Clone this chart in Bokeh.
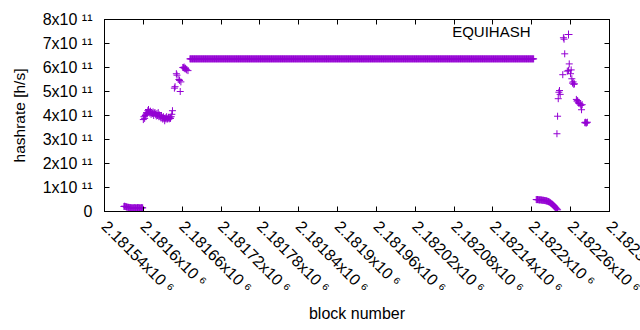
from bokeh.plotting import figure
from bokeh.models import Range1d, FixedTicker, LinearAxis, Legend, LegendItem, Label
from bokeh.embed import file_html
from bokeh.resources import INLINE

# ---------------- data ----------------
series_name = "EQUIHASH"

# early low-hashrate stretch
low_start_blocks = list(range(2181570, 2181600))
low_start_vals = [2.1e10, 2.2e10, 2.1e10, 2.0e10, 1.9e10, 1.8e10, 1.8e10, 1.7e10,
                  1.7e10, 1.6e10, 1.6e10, 1.6e10, 1.5e10, 1.5e10, 1.5e10, 1.5e10, 1.6e10, 1.6e10,
                  1.5e10, 1.5e10, 1.5e10, 1.6e10, 1.6e10, 1.6e10, 1.5e10, 1.5e10, 1.5e10, 1.6e10,
                  1.6e10, 1.5e10]

# ~4e11 plateau
mid_blocks = list(range(2181600, 2181646))
mid_vals = [3.83e11, 3.95e11, 3.88e11, 4.00e11, 4.05e11, 4.12e11, 4.08e11, 4.20e11, 4.25e11, 4.15e11,
            4.10e11, 4.18e11, 4.05e11, 4.12e11, 4.08e11, 4.15e11, 4.00e11, 4.10e11, 4.12e11, 4.05e11,
            3.98e11, 4.08e11, 4.00e11, 4.12e11, 3.95e11, 4.02e11, 3.98e11, 3.90e11, 4.00e11, 3.92e11,
            3.85e11, 3.95e11, 3.88e11, 3.78e11, 3.90e11, 3.86e11, 3.95e11, 3.85e11, 3.88e11, 3.92e11,
            3.86e11, 3.90e11, 3.88e11, 3.95e11, 4.05e11, 4.20e11]

# rise towards the long plateau
rise_blocks = [2181648, 2181649, 2181651, 2181652, 2181655, 2181656, 2181657, 2181658,
               2181661, 2181662, 2181663, 2181664, 2181665, 2181666, 2181667, 2181669]
rise_vals = [5.14e11, 5.20e11, 5.74e11, 5.68e11, 5.50e11, 5.46e11, 5.00e11, 5.40e11,
             6.00e11, 5.99e11, 6.02e11, 5.95e11, 5.97e11, 5.93e11, 5.90e11, 5.87e11]

# long flat plateau
flat_first_block = 2181672
flat_last_block = 2182203
flat_value = 6.36e11

# late low-hashrate stretch
low_end_blocks = list(range(2182207, 2182241))
low_end_vals = [5.0e10, 4.9e10, 5.0e10, 4.9e10, 4.9e10, 4.8e10, 4.9e10, 4.8e10, 4.8e10, 4.7e10,
                4.7e10, 4.7e10, 4.6e10, 4.6e10, 4.5e10, 4.5e10, 4.4e10, 4.3e10, 4.2e10, 4.1e10,
                4.0e10, 3.8e10, 3.6e10, 3.4e10, 3.2e10, 3.0e10, 2.8e10, 2.5e10, 2.2e10, 1.9e10,
                1.6e10, 1.3e10, 1.0e10, 0.7e10]

# final scattered stretch
tail_blocks = [2182239, 2182240, 2182241, 2182242, 2182243, 2182244, 2182248, 2182249, 2182250,
               2182251, 2182255, 2182257, 2182258, 2182260, 2182261, 2182262, 2182263, 2182264,
               2182265, 2182266, 2182269, 2182270, 2182271, 2182272, 2182273, 2182275, 2182276,
               2182277, 2182278, 2182282, 2182283, 2182284, 2182285, 2182286]
tail_vals = [3.24e11, 3.97e11, 4.70e11, 4.97e11, 5.04e11, 4.88e11, 5.70e11, 7.24e11, 7.18e11,
             6.57e11, 5.85e11, 5.88e11, 6.15e11, 5.74e11, 5.90e11, 5.53e11, 5.35e11, 5.40e11,
             5.30e11, 5.32e11, 4.67e11, 4.60e11, 4.62e11, 4.55e11, 4.50e11, 4.48e11, 4.42e11,
             4.24e11, 4.45e11, 3.70e11, 3.72e11, 3.68e11, 3.70e11, 3.72e11]

x_ticks = [2181540, 2181600, 2181660, 2181720, 2181780, 2181840, 2181900,
           2181960, 2182020, 2182080, 2182140, 2182200, 2182260, 2182320]
x_tick_labels = ["2.18154x10 \u2076", "2.1816x10 \u2076", "2.18166x10 \u2076", "2.18172x10 \u2076",
                 "2.18178x10 \u2076", "2.18184x10 \u2076", "2.1819x10 \u2076", "2.18196x10 \u2076",
                 "2.18202x10 \u2076", "2.18208x10 \u2076", "2.18214x10 \u2076", "2.1822x10 \u2076",
                 "2.18226x10 \u2076", "2.18232x10 \u2076"]
y_ticks = [0, 1e11, 2e11, 3e11, 4e11, 5e11, 6e11, 7e11, 8e11]
y_tick_labels = ["0", "1x10 \u00b9\u00b9", "2x10 \u00b9\u00b9", "3x10 \u00b9\u00b9", "4x10 \u00b9\u00b9",
                 "5x10 \u00b9\u00b9", "6x10 \u00b9\u00b9", "7x10 \u00b9\u00b9", "8x10 \u00b9\u00b9"]

# assemble
flat_blocks = list(range(flat_first_block, flat_last_block + 1))
flat_vals = [flat_value] * len(flat_blocks)
xs = low_start_blocks + mid_blocks + rise_blocks + flat_blocks + low_end_blocks + tail_blocks
ys = low_start_vals + mid_vals + rise_vals + flat_vals + low_end_vals + tail_vals

# ---------------- figure ----------------
FONT = "Liberation Sans"
PURPLE = "#9400d3"
W, H = 640, 330
TICK_STANDOFF = 12

# Bokeh nudges the outermost tick label back inside the canvas; a blank guard
# tick just past the last real tick takes that role, so the real last label runs
# off the right edge as in the reference.
guard_tick = x_ticks[-1] + 0.1
x_end = x_ticks[-1] + 0.2

p = figure(width=W, height=H, output_backend="svg", toolbar_location=None,
           x_range=Range1d(x_ticks[0], x_end), y_range=Range1d(y_ticks[0], y_ticks[-1]),
           min_border_left=104, min_border_right=31, min_border_top=19, min_border_bottom=119)
p.xgrid.visible = False
p.ygrid.visible = False
p.outline_line_color = "black"
p.outline_line_width = 1
p.background_fill_color = "white"
p.border_fill_color = "white"

r = p.scatter(xs, ys, marker="cross", size=7, line_color=PURPLE, line_width=1)

def style_axis(ax, size="16px"):
    ax.axis_line_color = "black"
    ax.major_tick_in = 5
    ax.major_tick_out = 0
    ax.major_tick_line_color = "black"
    ax.minor_tick_line_color = None
    ax.major_label_text_font = FONT
    ax.major_label_text_font_size = size
    ax.major_label_text_color = "black"
    ax.axis_label_text_font = FONT
    ax.axis_label_text_font_size = "16px"
    ax.axis_label_text_font_style = "normal"
    ax.axis_label_text_color = "black"

xa = p.xaxis[0]
xa.ticker = FixedTicker(ticks=x_ticks + [guard_tick])
overrides = dict(zip(x_ticks, x_tick_labels))
overrides[guard_tick] = ""
xa.major_label_overrides = overrides
xa.major_label_orientation = -0.7853981634
xa.major_label_standoff = TICK_STANDOFF
xa.axis_label = "block number"
xa.axis_label_standoff = 0
style_axis(xa)

ya = p.yaxis[0]
ya.ticker = FixedTicker(ticks=y_ticks)
ya.major_label_overrides = dict(zip(y_ticks, y_tick_labels))
ya.major_label_standoff = 12
ya.axis_label = "hashrate [h/s]"
ya.axis_label_standoff = 12
style_axis(ya)
ya.axis_label_text_font_size = "15.5px"

top = LinearAxis(ticker=FixedTicker(ticks=x_ticks), major_label_standoff=0)
style_axis(top)
top.major_label_text_font_size = "0px"
top.major_label_overrides = {t: "" for t in x_ticks}
p.add_layout(top, "above")

right = LinearAxis(ticker=FixedTicker(ticks=y_ticks), major_label_standoff=0)
style_axis(right)
right.major_label_text_font_size = "0px"
right.major_label_overrides = {t: "" for t in y_ticks}
p.add_layout(right, "right")

# key: text on the left, sample on the right (gnuplot style)
p.add_layout(Label(x=426, y=180, x_units="screen", y_units="screen", text=series_name,
                   text_align="right", text_baseline="middle", text_font=FONT,
                   text_font_size="15px", text_color="black"))
legend = Legend(items=[LegendItem(label=" ", renderers=[r])],
                location=(454, 167), glyph_width=20, glyph_height=20, label_height=20,
                label_width=1, label_standoff=0, padding=0, margin=0, spacing=0,
                border_line_color=None, background_fill_alpha=0,
                label_text_font=FONT, label_text_font_size="16px", label_text_color="black")
p.add_layout(legend)

open("out.html", "w").write(file_html(p, INLINE))
